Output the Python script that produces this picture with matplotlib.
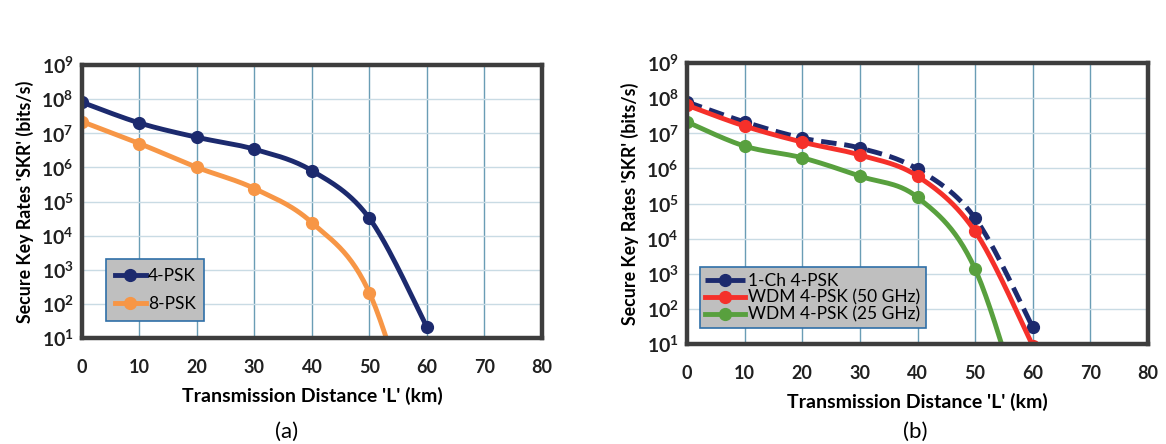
import numpy as np
import matplotlib.pyplot as plt
from matplotlib.ticker import FixedLocator, NullLocator

# distances (km)
dist = [0, 10, 20, 30, 40, 50, 60]

# panel (a)
psk4_a = [8.1e7, 2.0e7, 7.6e6, 3.4e6, 8.0e5, 3.2e4, 21]
psk8_a = [2.2e7, 5.0e6, 1.0e6, 2.4e5, 2.4e4, 210, 1e-3]

# panel (b)
ch1_psk4 = [7.8e7, 2.1e7, 7.3e6, 3.8e6, 9.5e5, 3.8e4, 30]
wdm_50 = [6.3e7, 1.6e7, 5.6e6, 2.4e6, 6.0e5, 1.6e4, 9]
wdm_25 = [2.1e7, 4.3e6, 2.0e6, 6.0e5, 1.5e5, 1.35e3, 1e-2]

xticks = [0, 10, 20, 30, 40, 50, 60, 70, 80]
ydecades = list(range(1, 10))

plt.rcParams['font.family'] = ['Lato', 'DejaVu Sans']
plt.rcParams['mathtext.fontset'] = 'custom'
plt.rcParams['mathtext.rm'] = 'Lato'
plt.rcParams['mathtext.bf'] = 'Lato:bold'

NAVY = '#1c2a6e'
ORANGE = '#f79646'
RED = '#f5302a'
GREEN = '#58a03e'


def smooth(x, y, n=30):
    # excel-style smoothed line drawn through the points (in log space)
    x = np.asarray(x, float)
    ly = np.log10(np.asarray(y, float))
    px = np.concatenate([[x[0]], x, [x[-1]]])
    py = np.concatenate([[ly[0]], ly, [ly[-1]]])
    xs, ys = [], []
    t = np.linspace(0, 1, n)
    for i in range(1, len(px) - 2):
        p0, p1, p2, p3 = (np.array([px[j], py[j]]) for j in range(i - 1, i + 3))
        c1 = p1 + (p2 - p0) / 6
        c2 = p2 - (p3 - p1) / 6
        pts = ((1 - t) ** 3)[:, None] * p1 + (3 * (1 - t) ** 2 * t)[:, None] * c1 \
            + (3 * (1 - t) * t ** 2)[:, None] * c2 + (t ** 3)[:, None] * p2
        xs.extend(pts[:, 0])
        ys.extend(pts[:, 1])
    return np.array(xs), 10 ** np.array(ys)


def draw(ax, x, y, color, label, ls='-'):
    sx, sy = smooth(x, y)
    ax.plot(sx, sy, color=color, lw=3.5, ls=ls, dashes=(3.2, 1.6) if ls == '--' else (None, None),
            solid_capstyle='round')
    ax.plot(x, y, ls='none', marker='o', ms=8.5, color=color)
    ax.plot([], [], color=color, lw=3.5, ls=ls, marker='o', ms=8.5, label=label)


def style(ax):
    ax.set_yscale('log')
    ax.set_xlim(0, 80)
    ax.set_ylim(10, 1e9)
    ax.xaxis.set_major_locator(FixedLocator(xticks))
    ax.yaxis.set_major_locator(FixedLocator([10.0 ** d for d in ydecades]))
    ax.yaxis.set_minor_locator(NullLocator())
    ax.set_yticklabels([f'$\\mathbf{{10^{{{d}}}}}$' for d in ydecades])
    ax.set_xticklabels([str(v) for v in xticks], fontweight='bold')
    ax.tick_params(axis='x', length=0, pad=15, labelsize=13, colors='#202020')
    ax.tick_params(axis='y', length=0, pad=6, labelsize=14, colors='#202020')
    ax.grid(True, axis='x', color='#6a9db5', lw=1.0)
    ax.grid(True, axis='y', color='#c9dbe4', lw=1.0)
    ax.set_axisbelow(True)
    for s in ax.spines.values():
        s.set_color('#3d3d3d')
        s.set_linewidth(3.2)
    ax.set_xlabel("Transmission Distance 'L' (km)", fontweight='bold', fontsize=14, labelpad=8)
    ax.set_ylabel("Secure Key Rates 'SKR' (bits/s)", fontweight='bold', fontsize=12.8, labelpad=5)


fig = plt.figure(figsize=(11.66, 4.44), dpi=100)
ax1 = fig.add_axes([0.0703, 0.2387, 0.3945, 0.6149])
ax2 = fig.add_axes([0.5892, 0.2252, 0.3954, 0.6329])

draw(ax1, dist, psk4_a, NAVY, '4-PSK')
draw(ax1, dist, psk8_a, ORANGE, '8-PSK')
style(ax1)
leg1 = ax1.legend(loc='lower left', bbox_to_anchor=(0.045, 0.05), fontsize=12.5,
                  facecolor='#bfbfbf', edgecolor='#2f6fa8', framealpha=1, fancybox=False,
                  handlelength=1.8, handletextpad=0.1, labelspacing=0.7, borderpad=0.5,
                  borderaxespad=0.2)
leg1.get_frame().set_linewidth(1.2)

draw(ax2, dist, ch1_psk4, NAVY, '1-Ch 4-PSK', ls='--')
draw(ax2, dist, wdm_50, RED, 'WDM 4-PSK (50 GHz)')
draw(ax2, dist, wdm_25, GREEN, 'WDM 4-PSK (25 GHz)')
style(ax2)
leg2 = ax2.legend(loc='lower left', bbox_to_anchor=(0.02, 0.045), fontsize=12.5,
                  facecolor='#bfbfbf', edgecolor='#2f6fa8', framealpha=1, fancybox=False,
                  handlelength=2.3, handletextpad=0.2, labelspacing=0.05, borderpad=0.3,
                  borderaxespad=0.2)
leg2.get_frame().set_linewidth(1.2)

fig.text(287 / 1166, 1 - 432 / 444, '(a)', ha='center', va='center', fontsize=16)
fig.text(915 / 1166, 1 - 432 / 444, '(b)', ha='center', va='center', fontsize=16)

fig.savefig('out.png', dpi=100, facecolor='white')
